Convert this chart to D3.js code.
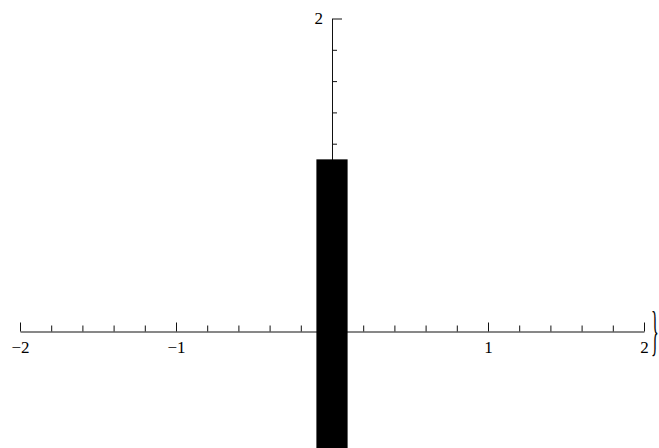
<!DOCTYPE html>
<html>
<head>
<meta charset="utf-8">
<script src="https://cdn.jsdelivr.net/npm/d3@7"></script>
<style>
  html, body { margin: 0; padding: 0; background: #fff; }
  svg { display: block; }
</style>
</head>
<body>
<svg id="chart" width="659" height="448"></svg>
<script>
// Bar data
const barCenters = [0];
const barValues = [1.1];
const barWidth = 0.2;
const barBase = -1;

// Axis ticks
const xMajorTicks = [-2, -1, 1, 2];
const xMinorTicks = [-1.8, -1.6, -1.4, -1.2, -0.8, -0.6, -0.4, -0.2, 0, 0.2, 0.4, 0.6, 0.8, 1.2, 1.4, 1.6, 1.8];
const xTickLabels = [-2, -1, 1, 2];
const yMajorTicks = [1, 2];
const yMinorTicks = [0.2, 0.4, 0.6, 0.8, 1.2, 1.4, 1.6, 1.8];
const yTickLabels = [2];

const SERIF = "'Liberation Serif', 'Times New Roman', serif";

const svg = d3.select("#chart");

const x = d3.scaleLinear().domain([-2, 2]).range([20, 644]);
const y = d3.scaleLinear().domain([0, 2]).range([331.5, 18.5]);

const fmt = d => (d < 0 ? "\u2212" + Math.abs(d) : String(d));

function styleAxis(g) {
  g.selectAll("path.domain").attr("stroke", "#111").attr("stroke-width", 1);
  g.selectAll(".tick line").attr("stroke", "#111").attr("stroke-width", 1);
}
function styleLabels(g) {
  g.select("path.domain").remove();
  g.selectAll("text")
    .style("font-family", SERIF)
    .style("font-size", "17px")
    .style("fill", "#000");
}

// x axis: line, minor ticks, major ticks
svg.append("g")
  .attr("transform", `translate(0,${y(0)})`)
  .call(d3.axisTop(x).tickValues(xMinorTicks).tickSize(6).tickSizeOuter(0).tickFormat(""))
  .call(styleAxis);
svg.append("g")
  .attr("transform", `translate(0,${y(0)})`)
  .call(d3.axisTop(x).tickValues(xMajorTicks).tickSize(9).tickSizeOuter(0).tickFormat(""))
  .call(g => g.select("path.domain").remove())
  .call(styleAxis);
// x labels
svg.append("g")
  .attr("transform", `translate(0,${y(0)})`)
  .call(d3.axisBottom(x).tickValues(xTickLabels).tickSize(0).tickPadding(9).tickFormat(fmt))
  .call(styleLabels);

// y axis: line, minor ticks, major ticks
svg.append("g")
  .attr("transform", `translate(${x(0)},0)`)
  .call(d3.axisRight(y).tickValues(yMinorTicks).tickSize(5).tickSizeOuter(0).tickFormat(""))
  .call(styleAxis);
svg.append("g")
  .attr("transform", `translate(${x(0)},0)`)
  .call(d3.axisRight(y).tickValues(yMajorTicks).tickSize(10).tickSizeOuter(0).tickFormat(""))
  .call(g => g.select("path.domain").remove())
  .call(styleAxis);
// y labels
svg.append("g")
  .attr("transform", `translate(${x(0)},0)`)
  .call(d3.axisLeft(y).tickValues(yTickLabels).tickSize(0).tickPadding(9).tickFormat(fmt))
  .call(styleLabels);

// bars
svg.append("g")
  .selectAll("rect")
  .data(barCenters.map((c, i) => ({ c, v: barValues[i] })))
  .join("rect")
  .attr("x", d => x(d.c - barWidth / 2))
  .attr("width", d => x(d.c + barWidth / 2) - x(d.c - barWidth / 2))
  .attr("y", d => y(d.v))
  .attr("height", d => y(barBase) - y(d.v))
  .attr("fill", "#000");

// closing brace at the end of the x axis (grayscale antialiasing via opacity)
svg.append("text")
  .attr("transform", `translate(651,${y(0) + 17}) scale(0.3,1)`)
  .style("font-family", SERIF)
  .style("font-size", "54px")
  .style("fill", "#000")
  .style("opacity", 0.99)
  .text("}");
</script>
</body>
</html>
